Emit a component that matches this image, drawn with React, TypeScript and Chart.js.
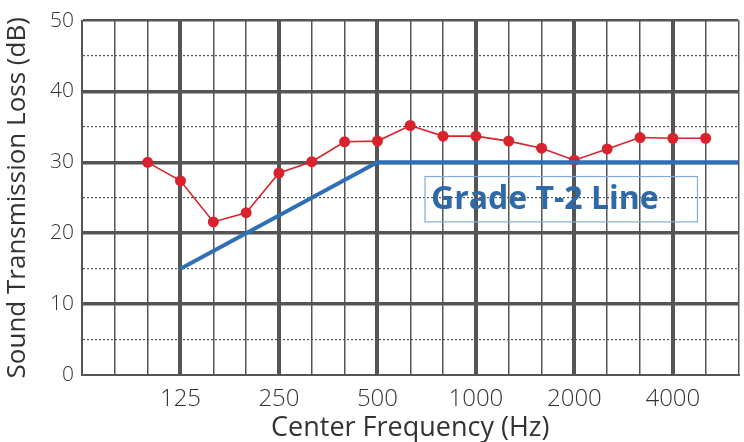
import React, { useEffect, useRef } from "react";
import { Chart, registerables } from "chart.js";

Chart.register(...registerables);

// One-third octave band centre frequencies (Hz)
const frequencies = [
  "63", "80", "100", "125", "160", "200", "250", "315", "400", "500",
  "630", "800", "1000", "1250", "1600", "2000", "2500", "3150", "4000", "5000", "6300",
];
// Labelled (octave) ticks
const tickLabels = ["125", "250", "500", "1000", "2000", "4000"];
// Measured sound transmission loss (dB)
const measuredTL: (number | null)[] = [
  null, null, 30, 27.4, 21.6, 22.9, 28.5, 30.1, 32.9, 33,
  35.2, 33.7, 33.7, 33, 32, 30.3, 31.9, 33.5, 33.4, 33.4, null,
];
// Grade T-2 reference line (dB)
const gradeT2: (number | null)[] = [
  null, null, null, 15, null, null, null, null, null, 30,
  null, null, null, null, null, null, null, null, null, null, 30,
];
const yTicks = ["0", "10", "20", "30", "40", "50"];
const annotationText = "Grade T-2 Line";

const FONT = "'Open Sans', 'DejaVu Sans', sans-serif";
const GRID = "#555555";

const labelPlugin = {
  id: "gradeLabel",
  afterDatasetsDraw(chart: any) {
    const { ctx, scales } = chart;
    const x = scales.x;
    const y = scales.y;
    const left = x.getPixelForValue(10.45);
    const right = x.getPixelForValue(18.75);
    const top = y.getPixelForValue(28.0);
    const bottom = y.getPixelForValue(21.6);
    ctx.save();
    ctx.strokeStyle = "#86aad6";
    ctx.lineWidth = 1.2;
    ctx.strokeRect(left, top, right - left, bottom - top);
    ctx.fillStyle = "#2f6aa8";
    ctx.font = `bold 32px ${FONT}`;
    ctx.textBaseline = "middle";
    ctx.textAlign = "left";
    ctx.fillText(annotationText, left + 6, (top + bottom) / 2 + 1);
    ctx.restore();
  },
};

export default function App() {
  const ref = useRef<HTMLCanvasElement | null>(null);

  useEffect(() => {
    document.body.style.margin = "0";
    const canvas = ref.current;
    if (!canvas) return;
    const chart = new Chart(canvas, {
      type: "line",
      data: {
        labels: frequencies,
        datasets: [
          {
            label: "Grade T-2",
            data: gradeT2,
            borderColor: "#2e6fb7",
            backgroundColor: "#2e6fb7",
            borderWidth: 4,
            pointRadius: 0,
            spanGaps: true,
            tension: 0,
          },
          {
            label: "Measured",
            data: measuredTL,
            borderColor: "#d8232c",
            backgroundColor: "#d8232c",
            borderWidth: 1.6,
            pointRadius: 5.5,
            pointBorderWidth: 0,
            spanGaps: false,
            tension: 0,
          },
        ],
      },
      options: {
        animation: false,
        responsive: false,
        maintainAspectRatio: false,
        layout: { padding: { top: 20, left: 0, right: -4, bottom: 0 } },
        plugins: {
          legend: { display: false },
          tooltip: { enabled: false },
        },
        scales: {
          x: {
            type: "category",
            offset: false,
            afterFit: (s: any) => {
              s.height = 67;
              s.paddingRight = 0;
              s.paddingLeft = 0;
            },
            grid: {
              drawTicks: false,
              color: GRID,
              lineWidth: (c: any) => {
                if (c.index === 0) return 2;
                return tickLabels.includes(frequencies[c.index]) ? 4 : 1.5;
              },
            },
            border: { display: true, color: GRID, width: 2 },
            ticks: {
              autoSkip: false,
              maxRotation: 0,
              padding: 10,
              color: "#333333",
              font: { family: FONT, size: 24, weight: "300" as any },
              callback: (_v: any, i: number) =>
                tickLabels.includes(frequencies[i]) ? frequencies[i] : "",
            },
            title: {
              display: true,
              text: "Center Frequency (Hz)",
              color: "#333333",
              font: { family: FONT, size: 27, weight: "normal" as any },
              padding: { top: 0, bottom: -3 },
            },
          },
          y: {
            min: 0,
            max: 50,
            afterFit: (s: any) => {
              s.width = 82;
            },
            grid: {
              drawTicks: false,
              color: GRID,
              lineWidth: (c: any) => {
                const v = c.tick ? c.tick.value : 0;
                if (v === 0) return 2;
                if (v === 50) return 2.5;
                return v % 10 === 0 ? 3.5 : 1.2;
              },
            },
            border: {
              display: true,
              color: GRID,
              width: 2,
              dash: (c: any) => {
                if (!c.tick) return [];
                return c.tick.value % 10 === 0 ? [] : [2, 2];
              },
            },
            ticks: {
              stepSize: 5,
              padding: 8,
              color: "#333333",
              font: { family: FONT, size: 21, weight: "300" as any },
              callback: (v: any) => (yTicks.includes(String(v)) ? String(v) : ""),
            },
            title: {
              display: true,
              text: "Sound Transmission Loss (dB)",
              color: "#333333",
              font: { family: FONT, size: 26, weight: "normal" as any },
              padding: { top: 2, bottom: 0 },
            },
          },
        },
      },
      plugins: [labelPlugin],
    });
    return () => chart.destroy();
  }, []);

  return (
    <div style={{ width: 744, height: 442, background: "#ffffff" }}>
      <canvas ref={ref} width={744} height={442} style={{ width: 744, height: 442, display: "block" }} />
    </div>
  );
}
